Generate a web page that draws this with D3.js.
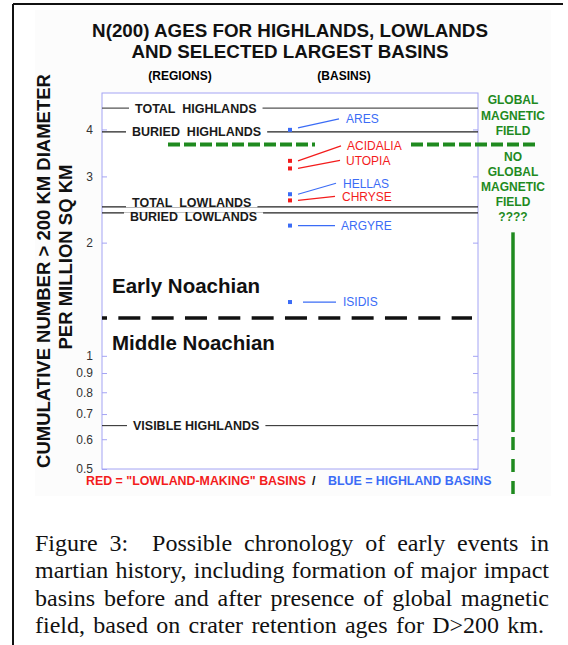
<!DOCTYPE html>
<html>
<head>
<meta charset="utf-8">
<script src="https://cdn.jsdelivr.net/npm/d3@7"></script>
<style>
  html, body { margin: 0; padding: 0; background: #fff; }
  svg { display: block; font-family: Arial, "Liberation Sans", sans-serif; }
  .caption { font-family: "Liberation Serif", "Times New Roman", Times, serif; }
</style>
</head>
<body>
<svg id="chart" width="568" height="645"></svg>
<script>
// values (N(200) crater densities)
const tickValues = [0.5, 0.6, 0.7, 0.8, 0.9, 1, 2, 3, 4];
const regionNames = ["TOTAL  HIGHLANDS", "BURIED  HIGHLANDS", "TOTAL  LOWLANDS", "BURIED  LOWLANDS", "VISIBLE HIGHLANDS"];
const regionValues = [4.56, 3.94, 2.49, 2.40, 0.652];
const basinNames = ["ARES", "ACIDALIA", "UTOPIA", "HELLAS", "CHRYSE", "ARGYRE", "ISIDIS"];
const basinValues = [3.99, 3.30, 3.15, 2.69, 2.59, 2.22, 1.39];
const basinKinds = ["highland", "lowland", "lowland", "highland", "lowland", "highland", "highland"];
const magneticBoundary = 3.65;
const noachianBoundary = 1.26;
const magneticBar = [2.13, 0.627, 0.42];
const captionLines = [
  "Figure 3:  Possible chronology of early events in",
  "martian history, including formation of major impact",
  "basins before and after presence of global magnetic",
  "field, based on crater retention ages for D>200 km."
];

const svg = d3.select("#chart");
const width = 568, height = 645;
const plot = { left: 102, right: 478, top: 93, bottom: 469 };
const blue = "#3b6cf6", red = "#f31c1c", green = "#1f8a1f", frameBlue = "#a4a4f4";

const y = d3.scaleLog().domain([0.5, 5]).range([plot.bottom, plot.top]);
const x = d3.scaleLinear().domain([0, 1]).range([plot.left, plot.right]);

// outer page frame
svg.append("rect").attr("width", width).attr("height", height).attr("fill", "#fff");
svg.append("rect").attr("x", 35).attr("y", 10).attr("width", 516).attr("height", 486).attr("fill", "#fcfcfc");
svg.append("line").attr("x1", 13).attr("x2", 563).attr("y1", 4).attr("y2", 4).attr("stroke", "#111").attr("stroke-width", 2);
svg.append("line").attr("x1", 13).attr("x2", 13).attr("y1", 4).attr("y2", height).attr("stroke", "#111").attr("stroke-width", 2);

// titles
const title = svg.append("text").attr("text-anchor", "middle").attr("font-weight", "bold").attr("font-size", 18.8).attr("fill", "#111");
title.append("tspan").attr("x", 290).attr("y", 37).text("N(200) AGES FOR HIGHLANDS, LOWLANDS");
title.append("tspan").attr("x", 290).attr("y", 58).text("AND SELECTED LARGEST BASINS");
svg.append("text").attr("x", 180).attr("y", 80).attr("text-anchor", "middle").attr("font-weight", "bold").attr("font-size", 12).text("(REGIONS)");
svg.append("text").attr("x", 344).attr("y", 80).attr("text-anchor", "middle").attr("font-weight", "bold").attr("font-size", 12).text("(BASINS)");

// y axis label
const yl = svg.append("text").attr("transform", "translate(0,270) rotate(-90)").attr("text-anchor", "middle").attr("font-weight", "bold").attr("font-size", 18.5).attr("fill", "#111");
yl.append("tspan").attr("x", -1).attr("y", 50).text("CUMULATIVE NUMBER > 200 KM DIAMETER");
yl.append("tspan").attr("x", 13).attr("y", 72).text("PER MILLION SQ KM");

// plot frame + axes
svg.append("rect").attr("x", plot.left).attr("y", plot.top).attr("width", plot.right - plot.left).attr("height", plot.bottom - plot.top).attr("fill", "#fff").attr("stroke", frameBlue).attr("stroke-width", 1);
const leftAxis = svg.append("g").attr("transform", `translate(${plot.left},0)`).call(d3.axisLeft(y).tickValues(tickValues).tickSize(-5).tickPadding(9).tickFormat(d => String(d)));
const rightAxis = svg.append("g").attr("transform", `translate(${plot.right},0)`).call(d3.axisRight(y).tickValues(tickValues).tickSize(-5).tickFormat(""));
[leftAxis, rightAxis].forEach(a => {
  a.select(".domain").remove();
  a.selectAll(".tick line").attr("stroke", frameBlue);
});
leftAxis.selectAll(".tick text").attr("font-size", 12).attr("fill", "#333").attr("font-family", "Arial, 'Liberation Sans', sans-serif");

const inner = svg.append("g");

// region reference lines with boxed labels
const regionLabelX = [135, 132, 132, 130, 133];
const regionLabelDy = [0, 0, -4, 4, 0];
regionNames.forEach((name, i) => {
  const yy = y(regionValues[i]);
  inner.append("line").attr("x1", plot.left).attr("x2", plot.right).attr("y1", yy).attr("y2", yy)
    .attr("stroke", i === 0 ? "#555" : "#222").attr("stroke-width", i === 4 ? 1 : 1.3);
  const t = inner.append("text").attr("x", regionLabelX[i]).attr("y", yy + regionLabelDy[i] + 4.5)
    .attr("font-weight", "bold").attr("font-size", 12.5).attr("fill", "#1a1a1a").attr("xml:space", "preserve")
    .style("white-space", "pre").text(name);
  const bb = t.node().getBBox();
  inner.insert("rect", () => t.node()).attr("x", bb.x - 6).attr("y", yy + regionLabelDy[i] - 4.5)
    .attr("width", bb.width + 12).attr("height", 9).attr("fill", "#fff");
});

// basins: markers, leader lines, labels
const basinX = x(0.5);
const labelDy = [-11, -15, -8, -11, -4, 0, 0];
const leaderEnd = [339, 341, 340, 336, 335, 335, 336];
const labelX = [346, 347, 346, 343, 342, 341, 343];
basinNames.forEach((name, i) => {
  const yy = y(basinValues[i]);
  const c = basinKinds[i] === "lowland" ? red : blue;
  inner.append("rect").attr("x", basinX - 2).attr("y", yy - 2).attr("width", 4).attr("height", 4).attr("fill", c);
  inner.append("line").attr("x1", basinX + (i === 6 ? 13 : 8)).attr("y1", yy - (i === 0 ? 2 : 0))
    .attr("x2", leaderEnd[i]).attr("y2", yy + labelDy[i]).attr("stroke", c).attr("stroke-width", 1.2);
  inner.append("text").attr("x", labelX[i]).attr("y", yy + labelDy[i] + 4.3).attr("font-size", 12).attr("fill", c).text(name);
});

// epoch boundary
inner.append("line").attr("x1", plot.left).attr("x2", plot.right - 6).attr("y1", y(noachianBoundary)).attr("y2", y(noachianBoundary))
  .attr("stroke", "#111").attr("stroke-width", 3.5).attr("stroke-dasharray", "22,11.33").attr("stroke-dashoffset", 17);
inner.append("text").attr("x", 112).attr("y", y(noachianBoundary) - 25).attr("font-weight", "bold").attr("font-size", 20.5).attr("fill", "#111").text("Early Noachian");
inner.append("text").attr("x", 112).attr("y", y(noachianBoundary) + 32).attr("font-weight", "bold").attr("font-size", 20.5).attr("fill", "#111").text("Middle Noachian");

// magnetic field boundary (green dashed)
const my = y(magneticBoundary);
[[168, 315], [411, 538]].forEach(([a, b]) => {
  svg.append("line").attr("x1", a).attr("x2", b).attr("y1", my).attr("y2", my)
    .attr("stroke", green).attr("stroke-width", 4).attr("stroke-dasharray", "12,4");
});

const greenText = svg.append("g").attr("text-anchor", "middle").attr("font-weight", "bold").attr("font-size", 12).attr("fill", green);
["GLOBAL", "MAGNETIC", "FIELD"].forEach((s, i) => greenText.append("text").attr("x", 513).attr("y", 104 + i * 15.5).text(s));
["NO", "GLOBAL", "MAGNETIC", "FIELD", "????"].forEach((s, i) => greenText.append("text").attr("x", 513).attr("y", 161 + i * 15).text(s));

svg.append("line").attr("x1", 513).attr("x2", 513).attr("y1", y(magneticBar[0])).attr("y2", y(magneticBar[1]))
  .attr("stroke", green).attr("stroke-width", 3.5);
svg.append("line").attr("x1", 513).attr("x2", 513).attr("y1", y(magneticBar[1]) + 5).attr("y2", y(magneticBar[2]))
  .attr("stroke", green).attr("stroke-width", 3.5).attr("stroke-dasharray", "13,9");

// colour key
const key = svg.append("text").attr("y", 485).attr("font-weight", "bold").attr("font-size", 12.4);
key.append("tspan").attr("x", 86).attr("fill", red).text("RED = \"LOWLAND-MAKING\" BASINS");
key.append("tspan").attr("x", 312).attr("fill", "#111").text("/");
key.append("tspan").attr("x", 328).attr("fill", blue).text("BLUE = HIGHLAND BASINS");

// caption, justified like the printed page (double space = double gap)
const capLeft = 35, capRight = [549, 549, 549, 544];
const capSize = 24;
captionLines.forEach((line, li) => {
  const tokens = line.split(" ");
  const words = tokens.filter(w => w.length);
  const gapWeights = [];
  let w = 0;
  tokens.forEach((tk, i) => {
    if (i === 0) return;
    w += 1;
    if (tk.length) { gapWeights.push(w); w = 0; }
  });
  const g = svg.append("text").attr("class", "caption").attr("y", 551 + li * 27.4).attr("font-size", capSize).attr("fill", "#111");
  const spans = words.map(s => g.append("tspan").text(s));
  const widths = spans.map(s => s.node().getComputedTextLength());
  const unit = (capRight[li] - capLeft - d3.sum(widths)) / d3.sum(gapWeights);
  let cx = capLeft;
  spans.forEach((s, i) => { s.attr("x", cx); cx += widths[i] + (i < gapWeights.length ? gapWeights[i] * unit : 0); });
});
</script>
</body>
</html>
